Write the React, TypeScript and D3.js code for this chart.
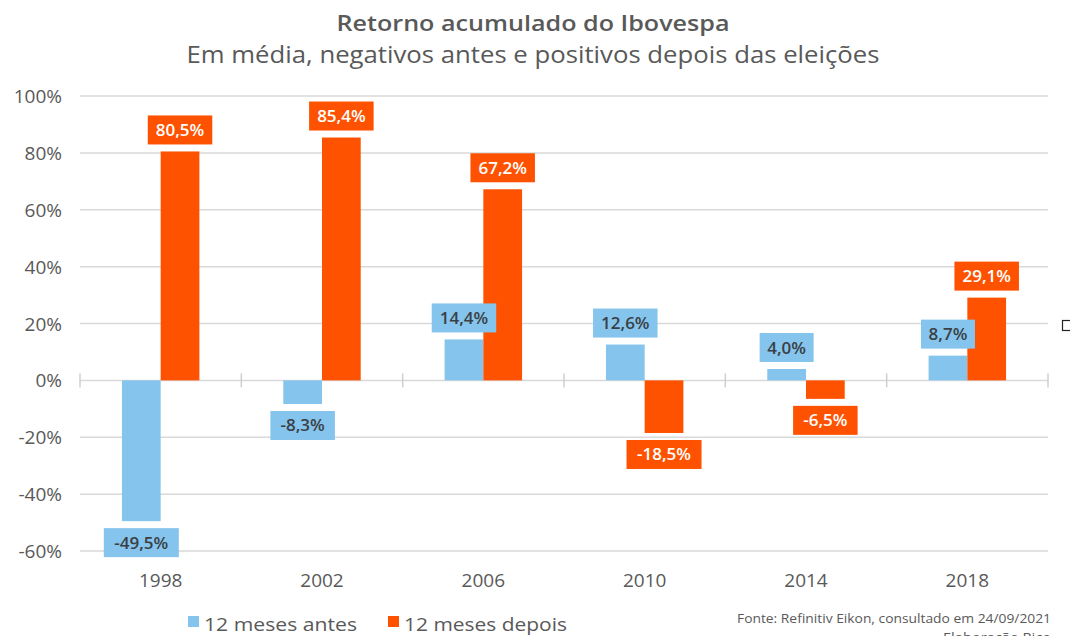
import React from "react";
import * as d3 from "d3";

const years = ["1998", "2002", "2006", "2010", "2014", "2018"];
const antes = [-49.5, -8.3, 14.4, 12.6, 4.0, 8.7];
const depois = [80.5, 85.4, 67.2, -18.5, -6.5, 29.1];
const seriesNames = ["12 meses antes", "12 meses depois"];
const seriesColors = ["#85C4EC", "#FF5200"];
const labelTextColors = ["#3a3f45", "#ffffff"];
const yTicks = [-60, -40, -20, 0, 20, 40, 60, 80, 100];
const title = "Retorno acumulado do Ibovespa";
const subtitle = "Em média, negativos antes e positivos depois das eleições";
const source1 = "Fonte: Refinitiv Eikon, consultado em 24/09/2021";
const source2 = "Elaboração Rico";

const W = 1070;
const H = 636;
const FONT = "'Open Sans', 'Noto Sans', sans-serif";
const GRAY = "#595959";

const fmt = (v: number) => v.toFixed(1).replace(".", ",") + "%";

export default function App() {
  const left = 80;
  const right = 1048;
  const y = d3.scaleLinear().domain([-60, 100]).range([551, 96]);
  const x0 = d3.scaleBand<string>().domain(years).range([left, right]).paddingInner(0).paddingOuter(0);
  const bw = x0.bandwidth();
  const x1 = d3
    .scaleBand<string>()
    .domain(seriesNames)
    .range([bw * 0.26, bw * 0.74])
    .padding(0);
  const data = [antes, depois];

  const bars: React.ReactNode[] = [];
  const labels: React.ReactNode[] = [];
  years.forEach((yr, i) => {
    data.forEach((series, s) => {
      const v = series[i];
      const bx = (x0(yr) as number) + (x1(seriesNames[s]) as number);
      const w = x1.bandwidth();
      const y0 = y(0);
      const yv = y(v);
      bars.push(
        <rect
          key={`b-${i}-${s}`}
          x={bx}
          y={Math.min(y0, yv)}
          width={w}
          height={Math.abs(yv - y0)}
          fill={seriesColors[s]}
        />
      );
      const text = fmt(v);
      const boxW = text.length * 10.5 + 12;
      const boxH = 29;
      const cx = bx + w / 2;
      const gap = 7;
      const by = v >= 0 ? yv - gap - boxH : yv + gap;
      labels.push(
        <g key={`l-${i}-${s}`}>
          <rect x={cx - boxW / 2} y={by} width={boxW} height={boxH} fill={seriesColors[s]} />
          <text
            x={cx}
            y={by + boxH / 2 + 6}
            textAnchor="middle"
            fontSize={17}
            fontWeight={600}
            fill={labelTextColors[s]}
            fontFamily={FONT}
          >
            {text}
          </text>
        </g>
      );
    });
  });

  return (
    <svg
      width={W}
      height={H}
      style={{ position: "absolute", top: 0, left: 0, background: "#fff" }}
      fontFamily={FONT}
    >
      <rect x={0} y={0} width={W} height={H} fill="#fff" />
      <text x={533} y={31} textAnchor="middle" fontSize={21} fontWeight={600} fill={GRAY} textLength={393} lengthAdjust="spacingAndGlyphs">
        {title}
      </text>
      <text x={533} y={63} textAnchor="middle" fontSize={23} fill={GRAY} textLength={693} lengthAdjust="spacingAndGlyphs">
        {subtitle}
      </text>

      {yTicks.map((t) => (
        <g key={`t-${t}`}>
          <line x1={left} x2={right} y1={y(t)} y2={y(t)} stroke="#d9d9d9" strokeWidth={1.5} />
          <text x={62} y={y(t) + 7} textAnchor="end" fontSize={19} fill={GRAY}>
            {t + "%"}
          </text>
        </g>
      ))}

      {bars}

      {[...years.map((yr) => x0(yr) as number), right].map((xx, i) => (
        <line key={`tk-${i}`} x1={xx} x2={xx} y1={y(0) - 7} y2={y(0) + 7} stroke="#cfcfcf" strokeWidth={1.5} />
      ))}

      {labels}

      {years.map((yr) => (
        <text
          key={`c-${yr}`}
          x={(x0(yr) as number) + bw / 2}
          y={587}
          textAnchor="middle"
          fontSize={19}
          fill={GRAY}
        >
          {yr}
        </text>
      ))}

      {seriesNames.map((n, s) => {
        const lx = s === 0 ? 188 : 388;
        const tl = s === 0 ? 153 : 163;
        return (
          <g key={`lg-${s}`}>
            <rect x={lx} y={616} width={11} height={11} fill={seriesColors[s]} />
            <text x={lx + 16} y={631} fontSize={19} fill={GRAY} textLength={tl} lengthAdjust="spacingAndGlyphs">
              {n}
            </text>
          </g>
        );
      })}

      <text x={1051} y={623} textAnchor="end" fontSize={13} fill={GRAY} textLength={314} lengthAdjust="spacingAndGlyphs">
        {source1}
      </text>
      <text x={1051} y={642} textAnchor="end" fontSize={13} fill={GRAY} textLength={108} lengthAdjust="spacingAndGlyphs">
        {source2}
      </text>

      <rect x={1062.5} y={320.5} width={9} height={10} fill="none" stroke="#222" strokeWidth={1.2} />
    </svg>
  );
}
